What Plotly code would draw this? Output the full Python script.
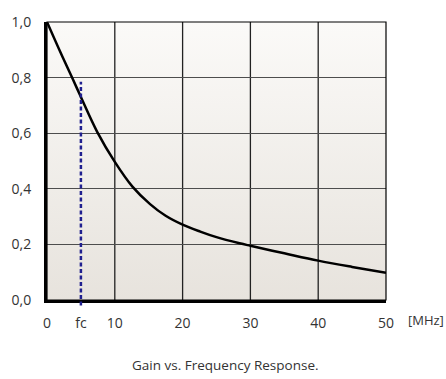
import plotly.graph_objects as go
import base64

# Data
freq_mhz = [0, 2, 3.8, 5, 7.4, 10, 12.6, 15.2, 17.5, 20, 22.6, 25, 28.4, 30, 35, 40, 45, 50]
gain = [1.0, 0.89, 0.795, 0.73, 0.605, 0.497, 0.408, 0.345, 0.303, 0.271, 0.246, 0.226,
        0.204, 0.195, 0.168, 0.1416, 0.119, 0.098]
fc_value = 5
fc_top = 0.785
x_tickvals = [0, 5, 10, 20, 30, 40, 50]
x_ticktext = ["0", "fc", "10", "20", "30", "40", "50"]
y_tickvals = [0, 0.2, 0.4, 0.6, 0.8, 1.0]
y_ticktext = ["0,0", "0,2", "0,4", "0,6", "0,8", "1,0"]

FONT = "Open Sans"
TXT = "#333333"

svg = ('<svg xmlns="http://www.w3.org/2000/svg" width="10" height="100" preserveAspectRatio="none">'
       '<defs><linearGradient id="g" x1="0" y1="0" x2="0" y2="1">'
       '<stop offset="0" stop-color="#fbfaf8"/><stop offset="1" stop-color="#e7e3dd"/>'
       '</linearGradient></defs><rect width="10" height="100" fill="url(#g)"/></svg>')
svg_uri = "data:image/svg+xml;base64," + base64.b64encode(svg.encode()).decode()

fig = go.Figure()
fig.add_trace(go.Scatter(
    x=freq_mhz, y=gain, mode="lines",
    line=dict(color="black", width=2.5, shape="spline", smoothing=1.0),
    hoverinfo="skip", showlegend=False,
))

fig.update_layout(
    width=446, height=379,
    margin=dict(l=46, r=60, t=17, b=79),
    paper_bgcolor="white",
    plot_bgcolor="rgba(0,0,0,0)",
    font=dict(family=FONT, color=TXT, size=14),
    showlegend=False,
    images=[dict(source=svg_uri, xref="paper", yref="paper", x=0, y=1,
                 sizex=1, sizey=1, sizing="stretch", layer="below",
                 xanchor="left", yanchor="top")],
    xaxis=dict(
        range=[0, 50], tickvals=x_tickvals, ticktext=x_ticktext,
        showgrid=False, zeroline=False,
        showline=True, linecolor="black", linewidth=3,
        ticks="outside", ticklen=8, tickcolor="rgba(0,0,0,0)",
        tickfont=dict(family=FONT, size=14, color=TXT),
    ),
    yaxis=dict(
        range=[0, 1], tickvals=y_tickvals, ticktext=y_ticktext,
        showgrid=True, gridcolor="#4d4d4d", gridwidth=1.3, zeroline=False,
        showline=True, linecolor="black", linewidth=3,
        ticks="outside", ticklen=10, tickcolor="rgba(0,0,0,0)",
        tickfont=dict(family=FONT, size=14, color=TXT),
    ),
)

# vertical grid lines at 10..40
for xv in [10, 20, 30, 40]:
    fig.add_shape(type="line", xref="x", yref="paper", x0=xv, x1=xv, y0=0, y1=1,
                  line=dict(color="#222222", width=1.3), layer="below")

# frame (top and right)
fig.add_shape(type="rect", xref="paper", yref="paper", x0=0, x1=1, y0=0, y1=1,
              line=dict(color="black", width=1.2), layer="above")

# fc dashed line
fig.add_shape(type="line", xref="x", yref="paper", x0=fc_value, x1=fc_value,
              y0=-0.02, y1=fc_top,
              line=dict(color="#1f1f8f", width=2.5, dash="4px,2.5px"))

fig.add_annotation(text="[MHz]", xref="paper", yref="paper", x=1 + (426 - 386) / 340,
                   y=-(320 - 300) / 283,
                   xanchor="center", yanchor="middle", showarrow=False,
                   font=dict(family=FONT, size=13, color=TXT))
fig.add_annotation(text="Gain vs. Frequency Response.", xref="paper", yref="paper",
                   x=0.5 + (225 - 216) / 340, y=-(366 - 300) / 283,
                   xanchor="center", yanchor="middle", showarrow=False,
                   font=dict(family=FONT, size=13.5, color=TXT))

fig.write_html("out.html")
